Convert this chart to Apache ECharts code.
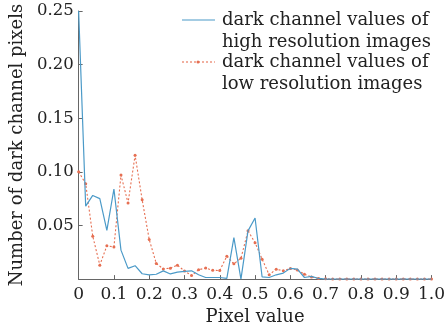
<!DOCTYPE html>
<html><head><meta charset="utf-8">
<script src="https://cdn.jsdelivr.net/npm/echarts@6/dist/echarts.min.js"></script>
<style>html,body{margin:0;padding:0;background:#fff}#c{width:448px;height:331px}</style>
</head><body><div id="c"></div>
<script>
var pixelValues = [0,0.02,0.04,0.06,0.08,0.10,0.12,0.14,0.16,0.18,0.20,0.22,0.24,0.26,0.28,0.30,0.32,0.34,0.36,0.38,0.40,0.42,0.44,0.46,0.48,0.50,0.52,0.54,0.56,0.58,0.60,0.62,0.64,0.66,0.68,0.70,0.72,0.74,0.76,0.78,0.80,0.82,0.84,0.86,0.88,0.90,0.92,0.94,0.96,0.98,1.00];
var highRes = [0.250,0.068,0.078,0.075,0.0455,0.084,0.027,0.010,0.0125,0.005,0.004,0.0045,0.0077,0.0048,0.0065,0.0072,0.0077,0.004,0.0015,0.0015,0.0015,0.0006,0.0387,0,0.045,0.057,0.002,0.0015,0.004,0.0056,0.010,0.0093,0.0015,0.0025,0.0006,0,0,0,0,0,0,0,0,0,0,0,0,0,0,0,0];
var lowRes = [0.100,0.089,0.040,0.013,0.031,0.030,0.097,0.071,0.1155,0.074,0.037,0.0146,0.0095,0.0102,0.013,0.0075,0.0033,0.0087,0.0103,0.0082,0.008,0.0214,0.0142,0.0195,0.045,0.034,0.0186,0.004,0.0093,0.0077,0.0099,0.0084,0.0046,0.002,0.0006,0.0003,0,0,0,0,0,0,0,0,0,0,0,0,0,0,0];
var legendLines = [["dark channel values of","high resolution images"],["dark channel values of","low resolution images"]];
var xTitle = "Pixel value";
var yTitle = "Number of dark channel pixels";

var blue = '#4b9ac8', red = '#e66f52';
var font = '"DejaVu Serif", serif';
function pairs(ys){ return pixelValues.map(function(x,i){ return [x, ys[i]]; }); }

var chart = echarts.init(document.getElementById('c'), null, {renderer:'canvas'});
chart.setOption({
  animation:false,
  backgroundColor:'#fff',
  grid:{left:77,right:13,top:11,bottom:51,containLabel:false},
  xAxis:{type:'value',min:0,max:1,interval:0.1,
    name:xTitle,nameLocation:'middle',nameGap:23,
    nameTextStyle:{fontFamily:font,fontSize:18,color:'#222'},
    axisLine:{lineStyle:{color:'#666',width:1}},
    axisTick:{inside:true,length:4,lineStyle:{color:'#666'}},
    axisLabel:{fontFamily:font,fontSize:17,color:'#222',margin:7,
      formatter:function(v){return v===0?'0':v.toFixed(1);}},
    splitLine:{show:false}},
  yAxis:{type:'value',min:0,max:0.25,interval:0.05,
    name:yTitle,nameLocation:'middle',nameGap:51,nameRotate:90,
    nameTextStyle:{fontFamily:font,fontSize:18,color:'#222'},
    axisLine:{show:true,lineStyle:{color:'#666',width:1}},
    axisTick:{show:true,inside:true,length:4,lineStyle:{color:'#666'}},
    axisLabel:{fontFamily:font,fontSize:16.5,color:'#222',margin:5,
      formatter:function(v){return v===0?'':v.toFixed(2);}},
    splitLine:{show:false}},
  series:[
    {type:'line',data:pairs(highRes),showSymbol:false,symbol:'none',
      lineStyle:{color:blue,width:1.2},itemStyle:{color:blue},z:3},
    {type:'line',data:pairs(lowRes),symbol:'circle',symbolSize:3,showSymbol:true,
      lineStyle:{color:red,width:1.1,type:[2,2]},itemStyle:{color:red},z:2}
  ],
  graphic:[
    {type:'line',shape:{x1:182,y1:20,x2:215,y2:20},style:{stroke:blue,lineWidth:1.2}},
    {type:'line',shape:{x1:182,y1:62,x2:215,y2:62},style:{stroke:red,lineWidth:1.1,lineDash:[2,2]}},
    {type:'circle',shape:{cx:198,cy:62,r:1.5},style:{fill:red}},
    {type:'text',left:222,top:10,style:{text:legendLines[0].join('\n'),font:'18px '+font,fill:'#222',lineHeight:21.5}},
    {type:'text',left:222,top:52,style:{text:legendLines[1].join('\n'),font:'18px '+font,fill:'#222',lineHeight:21.5}}
  ]
});
</script></body></html>
